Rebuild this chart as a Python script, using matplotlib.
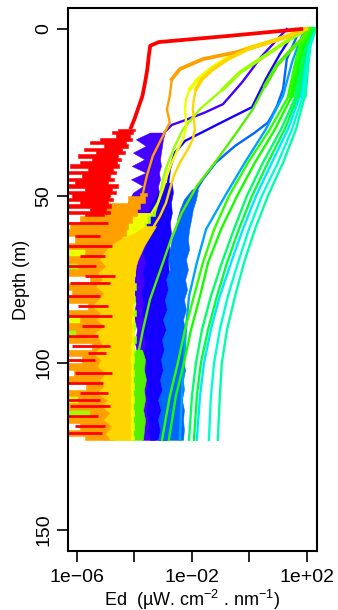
import matplotlib
matplotlib.use("Agg")
import matplotlib.pyplot as plt
import numpy as np
from matplotlib.ticker import NullLocator

plt.rcParams['font.family'] = ['Liberation Sans', 'DejaVu Sans']
plt.rcParams['mathtext.default'] = 'regular'

# all irradiance values are log10(Ed), depths in m

# smooth fan of blue-green channels, shared depth grid
fan_z = [0, 2, 5, 10, 20, 30, 40, 50, 60, 70, 80, 90, 100, 110, 123]
g1_v = [2.10, 1.97, 1.76, 1.62, 1.37, 0.71, -0.05, -0.71, -1.23, -1.62, -1.93, -2.24, -2.49, -2.77, -3.04]
g2_v = [2.14, 2.03, 1.86, 1.72, 1.48, 0.89, 0.19, -0.43, -0.99, -1.44, -1.72, -2.03, -2.28, -2.56, -2.80]
sg_v = [2.17, 2.07, 1.93, 1.79, 1.62, 1.10, 0.47, -0.09, -0.54, -0.96, -1.34, -1.65, -1.86, -2.00, -2.10]
g3_v = [2.21, 2.10, 1.97, 1.86, 1.69, 1.23, 0.64, 0.09, -0.37, -0.78, -1.13, -1.44, -1.69, -1.83, -1.93]
c1_v = [2.21, 2.14, 2.00, 1.90, 1.76, 1.34, 0.78, 0.23, -0.23, -0.64, -1.03, -1.34, -1.58, -1.72, -1.83]
c2_v = [2.24, 2.17, 2.07, 1.97, 1.86, 1.48, 0.99, 0.43, -0.02, -0.40, -0.75, -1.03, -1.23, -1.34, -1.41]
c3_v = [2.28, 2.21, 2.10, 2.03, 1.93, 1.62, 1.17, 0.64, 0.19, -0.19, -0.50, -0.78, -0.96, -1.03, -1.10]

lb_z = [0, 5, 10, 20, 30, 40, 50, 60, 70, 80, 90, 100, 110, 123]
lb_v = [1.93, 1.69, 1.48, 1.17, 0.57, -0.16, -0.85, -1.51, -1.83, -2.10, -2.21, -2.28, -2.35, -2.42]

# violet
vi_z = [0, 8.4, 12, 16, 22.5, 25, 27.3, 28.7, 30.8]
vi_v = [1.30, 0.40, 0.09, -0.26, -0.92, -1.55, -2.24, -2.70, -2.94]
vi_bz = [31, 33, 35, 37, 39, 41, 43, 45, 47, 49, 52, 55, 58, 61, 64, 67, 70, 74, 78, 82,
         86, 90, 94, 98, 102, 106, 110, 114, 118, 123]
vi_lo = [-3.46, -3.95, -3.60, -4.05, -3.65, -4.09, -3.60, -4.12, -3.70, -4.05, -4.23, -4.05, -4.26, -4.09, -4.16,
         -4.02, -4.12, -3.98, -4.05, -3.95, -4.02, -3.91, -3.98, -3.88, -3.91, -3.81, -3.88, -3.77, -3.81, -3.74]
vi_hi = [-2.94, -3.01, -3.04, -3.08, -3.11, -3.08, -3.15, -3.11, -3.18, -3.15, -3.18, -3.22, -3.25, -3.25, -3.29,
         -3.32, -3.36, -3.39, -3.43, -3.46, -3.46, -3.46, -3.46, -3.43, -3.39, -3.36, -3.32, -3.29, -3.29, -3.29]

# blue
bl_z = [0, 7.5, 15, 23.4, 27, 30.8, 33.5, 37, 42, 46]
bl_v = [1.62, 1.06, 0.57, 0.09, -0.75, -1.62, -2.24, -2.59, -2.77, -2.83]
bl_bz = [46, 49, 52, 55, 58, 61, 64, 67, 70, 73, 76, 79, 82, 85, 88, 91, 94, 97, 100, 103,
         106, 109, 112, 115, 118, 121, 123]
bl_lo = [-2.94, -3.18, -3.39, -3.53, -3.46, -3.63, -3.57, -3.70, -3.60, -3.74, -3.63, -3.77, -3.67, -3.74,
         -3.63, -3.70, -3.60, -3.67, -3.57, -3.63, -3.53, -3.60, -3.53, -3.57, -3.50, -3.53, -3.46]
bl_hi = [-2.70, -2.66, -2.73, -2.70, -2.77, -2.73, -2.80, -2.77, -2.83, -2.80, -2.83, -2.80, -2.87, -2.83,
         -2.83, -2.80, -2.77, -2.83, -2.77, -2.80, -2.77, -2.83, -2.80, -2.87, -2.83, -2.90, -2.87]

# dodger blue
db_z = [0, 9, 18, 23, 26, 28, 31, 35, 40, 45, 48]
db_v = [1.76, 1.30, 1.17, 0.96, 0.78, 0.64, 0.19, -0.50, -1.17, -1.62, -1.83]
db_bz = [48, 51, 54, 57, 60, 63, 66, 69, 72, 75, 78, 81, 84, 87, 90, 93, 96, 99, 102, 105,
         108, 111, 114, 117, 120, 123]
db_lo = [-2.00, -2.28, -2.42, -2.52, -2.56, -2.70, -2.77, -2.83, -2.77, -2.90, -2.83, -2.94, -2.87, -3.01,
         -2.90, -3.04, -2.97, -3.08, -3.01, -3.11, -3.04, -3.18, -3.08, -3.18, -3.11, -3.18]
db_hi = [-1.79, -1.86, -1.97, -2.03, -2.10, -2.14, -2.10, -2.21, -2.14, -2.24, -2.17, -2.28, -2.21, -2.31,
         -2.24, -2.28, -2.24, -2.31, -2.24, -2.31, -2.28, -2.35, -2.28, -2.31, -2.28, -2.31]

# green (drops to the left, noisy at depth)
gy_z = [0, 3, 5, 10.8, 17, 24, 30.8, 40, 47, 55, 63, 70, 81, 90, 96]
gy_v = [2.03, 1.83, 1.58, 0.96, 0.54, 0.12, -0.43, -1.20, -1.83, -2.35, -2.73, -3.01, -3.46, -3.70, -3.84]
gy_bz = [96, 99, 102, 105, 108, 111, 114, 117, 120, 123]
gy_lo = [-3.95, -4.05, -4.12, -4.05, -4.16, -4.09, -4.16, -4.12, -4.19, -4.12]
gy_hi = [-3.74, -3.63, -3.67, -3.60, -3.67, -3.63, -3.70, -3.63, -3.67, -3.70]

# deep noisy grid for the long wavelengths
deep_z = [55, 57, 59, 61, 63, 65, 67, 69, 71, 73, 75, 77, 79, 81, 83, 85, 87, 89, 91, 93,
          95, 97, 99, 101, 103, 105, 107, 109, 111, 113, 115, 117, 119, 121, 123]

# chartreuse
ch_z = [0, 4, 9, 13, 18, 24, 30, 35, 40, 45, 50, 55]
ch_v = [2.00, 1.23, 0.37, -0.33, -0.92, -1.72, -2.31, -2.59, -2.83, -3.01, -3.11, -3.29]
ch_lo = [-4.5, -4.7, -4.6, -4.7, -4.8, -4.7, -4.6, -4.7, -6.4, -4.7, -4.8, -4.7, -4.6, -4.7, -4.8, -4.7, -4.6, -4.7,
         -6.4, -4.7, -4.8, -4.7, -4.6, -4.7, -4.8, -4.7, -4.6, -4.7, -4.8, -4.7, -6.4, -4.7, -4.6, -4.7, -4.8]
ch_hi = [-3.30, -3.45, -3.60, -3.75, -3.90, -3.95, -4.00, -3.95, -4.02, -3.98, -4.02, -3.95, -4.00, -3.98, -4.02, -3.95,
         -4.00, -3.98, -4.02, -3.95, -4.00, -3.98, -4.02, -3.95, -4.00, -3.98, -4.02, -3.95, -4.00, -3.98, -4.02, -3.95,
         -4.00, -3.98, -4.02]

# yellow
ye_z = [0, 3, 6, 9, 12, 15, 18, 21, 24, 27, 30, 33, 36, 40, 44, 48, 52, 55]
ye_v = [1.93, 0.99, -0.16, -0.85, -1.37, -1.79, -2.07, -2.21, -2.24, -2.21, -2.21, -2.31, -2.49, -2.70, -2.87,
        -3.01, -3.18, -3.39]
ye_lo = [-4.6, -5.0, -5.3, -5.0, -5.2, -5.0, -6.4, -5.0, -5.1, -5.0, -5.2, -5.0, -5.2, -5.0, -5.1, -5.0, -6.4, -5.0,
         -5.2, -5.0, -5.1, -5.0, -5.2, -5.0, -5.2, -5.0, -5.1, -5.0, -6.4, -5.0, -5.2, -5.0, -5.1, -5.0, -5.1]
ye_hi = [-3.45, -3.55, -3.65, -3.75, -3.85, -3.90, -4.00, -4.05, -4.00, -4.05, -4.00, -4.05, -4.00, -4.05, -4.00,
         -4.05, -4.00, -4.05, -4.00, -4.05, -4.00, -4.05, -4.00, -4.05, -4.00, -4.05, -4.00, -4.05, -4.00, -4.05,
         -4.00, -4.05, -4.00, -4.05, -4.00]

# gold
go_z = [0, 3, 6, 9, 12, 15, 18, 21, 24, 27, 30, 33, 36, 40, 44, 48, 52, 56, 59]
go_v = [1.97, 1.06, -0.05, -0.75, -1.27, -1.65, -1.86, -1.93, -1.97, -1.93, -1.90, -1.97, -2.14, -2.42, -2.63,
        -2.77, -2.90, -3.11, -3.32]
go_bz = [59, 61, 63, 65, 67, 69, 71, 73, 75, 77, 79, 81, 83, 85, 87, 89, 91, 93, 95, 97,
         99, 101, 103, 105, 107, 109, 111, 113, 115, 117, 119, 121, 123]
go_lo = [-3.63, -3.98, -4.50, -4.85, -5.06, -5.20, -4.99, -5.27, -5.10, -5.34, -5.06, -5.23, -5.48, -5.17, -5.30,
         -5.03, -5.37, -5.20, -5.10, -5.41, -5.17, -5.27, -4.99, -5.20, -5.06, -5.30, -4.92, -5.13, -4.85, -5.06,
         -4.78, -4.99, -4.85]
go_hi = [-3.25, -3.39, -3.53, -3.67, -3.77, -3.88, -3.95, -3.98, -4.02, -3.98, -4.05, -4.02, -4.09, -4.05, -4.12,
         -4.09, -4.12, -4.09, -4.16, -4.12, -4.16, -4.12, -4.16, -4.12, -4.16, -4.12, -4.16, -4.12, -4.16, -4.12,
         -4.16, -4.12, -4.16]

# orange
or_z = [0, 2, 3.9, 6.9, 9, 12, 15, 20, 24, 28, 32, 38, 44, 49]
or_v = [1.93, 1.41, 0.71, -0.43, -1.62, -2.42, -2.70, -2.77, -2.87, -2.77, -3.01, -3.36, -3.57, -3.70]
or_bz = [49, 51, 53, 55, 57, 59, 61, 63, 65, 67, 69, 71, 73, 75, 77, 79, 81, 83, 85, 87,
         89, 91, 93, 95, 97, 99, 101, 103, 105, 107, 109, 111, 113, 115, 117, 119, 121, 123]
or_lo = [-3.81, -4.23, -5.17, -5.48, -5.90, -6.24, -6.4, -6.07, -6.4, -5.72, -6.4, -5.97, -6.4, -5.55, -6.4,
         -6.17, -6.4, -5.62, -6.4, -5.90, -6.4, -6.03, -6.4, -5.48, -6.4, -5.83, -6.4, -6.10, -6.4, -5.69,
         -6.4, -5.97, -6.4, -5.55, -6.4, -5.90, -6.4, -5.72]
or_hi = [-3.57, -3.63, -3.81, -3.91, -4.09, -4.23, -4.30, -4.43, -4.37, -4.57, -4.47, -4.64, -4.50, -4.71, -4.54,
         -4.68, -4.47, -4.75, -4.57, -4.78, -4.50, -4.71, -4.61, -4.82, -4.54, -4.68, -4.50, -4.78, -4.57, -4.71,
         -4.47, -4.75, -4.61, -4.85, -4.64, -4.78, -4.57, -4.71]

# red
re_z = [0, 2, 3.9, 5, 8, 12, 16, 20, 24, 27, 29.5]
re_v = [1.80, -0.65, -3.15, -3.45, -3.50, -3.55, -3.63, -3.72, -3.88, -4.00, -4.12]
re_bz = [30, 31, 32, 33, 34, 35, 36, 37, 38, 39, 40, 41, 42, 43, 44, 45, 46, 47, 48, 49,
         50, 51, 52, 53, 54, 55, 56]
re_lo = [-4.57, -4.78, -4.64, -5.20, -5.55, -5.06, -5.76, -5.34, -5.97, -5.48, -5.90, -6.24, -5.62, -6.4,
         -5.83, -6.4, -6.07, -6.4, -5.72, -6.4, -6.17, -6.4, -5.90, -6.4, -5.55, -6.4, -5.72]
re_hi = [-3.98, -4.05, -4.16, -4.09, -4.30, -4.23, -4.43, -4.33, -4.57, -4.47, -4.61, -4.54, -4.75, -4.64,
         -4.85, -4.71, -4.92, -4.57, -4.78, -4.64, -4.85, -4.75, -4.92, -4.82, -4.99, -4.85, -5.06]
re_spike_z = [58, 62, 65, 68, 71, 74, 76, 80, 83, 86, 89, 92, 95, 97, 99, 103, 106, 109, 111, 113, 116, 119, 121]
re_spike_lo = [-6.5, -6.07, -6.5, -5.90, -6.5, -5.72, -6.24, -6.5, -5.97, -6.5, -5.83, -6.5, -6.17, -5.62,
               -6.5, -6.07, -6.5, -5.90, -6.5, -6.24, -6.5, -6.07, -6.5]
re_spike_hi = [-4.92, -5.20, -4.78, -5.03, -5.34, -4.68, -4.85, -5.20, -4.92, -4.78, -5.06, -5.27, -4.85,
               -4.99, -5.37, -4.78, -5.10, -4.92, -5.20, -4.85, -5.27, -5.03, -5.13]

x_ticks = [1e-6, 1e-4, 1e-2, 1e0, 1e2]
x_tick_labels = ['1e\u221206', '', '1e\u221202', '', '1e+02']
y_ticks = [0, 50, 100, 150]


def E(v):
    return 10.0 ** np.asarray(v, dtype=float)


def draw_line(ax, z, v, color, fuzz=0):
    z = np.asarray(z, dtype=float)
    ax.plot(E(v), z, color=color, lw=1.7, solid_joinstyle='round')
    if fuzz:
        m = z <= fuzz
        ax.plot(E(v)[m], z[m], color=color, lw=2.7, solid_joinstyle='round')


def draw_band(ax, z, lo, hi, color, step=None):
    ax.fill_betweenx(z, E(lo), E(hi), step=step, color=color, lw=0.4, edgecolor=color)


fig = plt.figure(figsize=(3.38, 6.10), dpi=100)
ax = fig.add_axes([68 / 338, 59 / 610, 249 / 338, 543 / 610])
ax.set_xscale('log')

# drawing order as it appears in the picture
draw_line(ax, vi_z, vi_v, '#4400FF')
draw_band(ax, vi_bz, vi_lo, vi_hi, '#4400FF')
draw_line(ax, bl_z, bl_v, '#1500FF')
draw_band(ax, bl_bz, bl_lo, bl_hi, '#1500FF')
draw_line(ax, db_z, db_v, '#0066FF')
draw_band(ax, db_bz, db_lo, db_hi, '#0066FF')
draw_line(ax, lb_z, lb_v, '#00A2FF')
for vals, col in [(c3_v, '#00FFA8'), (c2_v, '#00FFD0'), (c1_v, '#00E8FF'), (g3_v, '#00FF3A'),
                  (sg_v, '#00FF6A'), (g2_v, '#11FF00'), (g1_v, '#2BFF00')]:
    draw_line(ax, fan_z, vals, col, fuzz=22)
draw_line(ax, ch_z, ch_v, '#9BFF00', fuzz=20)
draw_band(ax, deep_z, ch_lo, ch_hi, '#9BFF00', step='mid')
draw_line(ax, gy_z, gy_v, '#55F000', fuzz=22)
draw_band(ax, gy_bz, gy_lo, gy_hi, '#55F000')
draw_line(ax, ye_z, ye_v, '#EEFF00', fuzz=20)
draw_band(ax, deep_z, ye_lo, ye_hi, '#EEFF00', step='mid')
draw_line(ax, or_z, or_v, '#FFA000', fuzz=15)
draw_band(ax, or_bz, or_lo, or_hi, '#FFA000', step='mid')
draw_line(ax, go_z, go_v, '#FFD500', fuzz=20)
draw_band(ax, go_bz, go_lo, go_hi, '#FFD500')
draw_line(ax, re_z, re_v, '#FF0000', fuzz=30)
draw_band(ax, re_bz, re_lo, re_hi, '#FF0000', step='mid')
ax.hlines(re_spike_z, E(re_spike_lo), E(re_spike_hi), color='#FF0000', lw=2)

ax.set_xlim(10 ** -6.31, 10 ** 2.35)
ax.set_ylim(156.3, -6.3)
ax.set_xticks(x_ticks)
ax.set_xticklabels(x_tick_labels)
ax.xaxis.set_minor_locator(NullLocator())
ax.set_yticks(y_ticks)
ax.set_yticklabels([str(t) for t in y_ticks], rotation=90, va='center')

for s in ax.spines.values():
    s.set_linewidth(1.5)
ax.tick_params(axis='both', direction='out', length=8, width=1.2, labelsize=14)
ax.tick_params(axis='x', pad=5)
ax.tick_params(axis='y', pad=3)

ax.set_xlabel('Ed  (\u00b5W. cm$^{-2}$ . nm$^{-1}$)', fontsize=13, labelpad=1)
ax.set_ylabel('Depth (m)', fontsize=13, labelpad=4)

fig.savefig('out.png', dpi=100)
